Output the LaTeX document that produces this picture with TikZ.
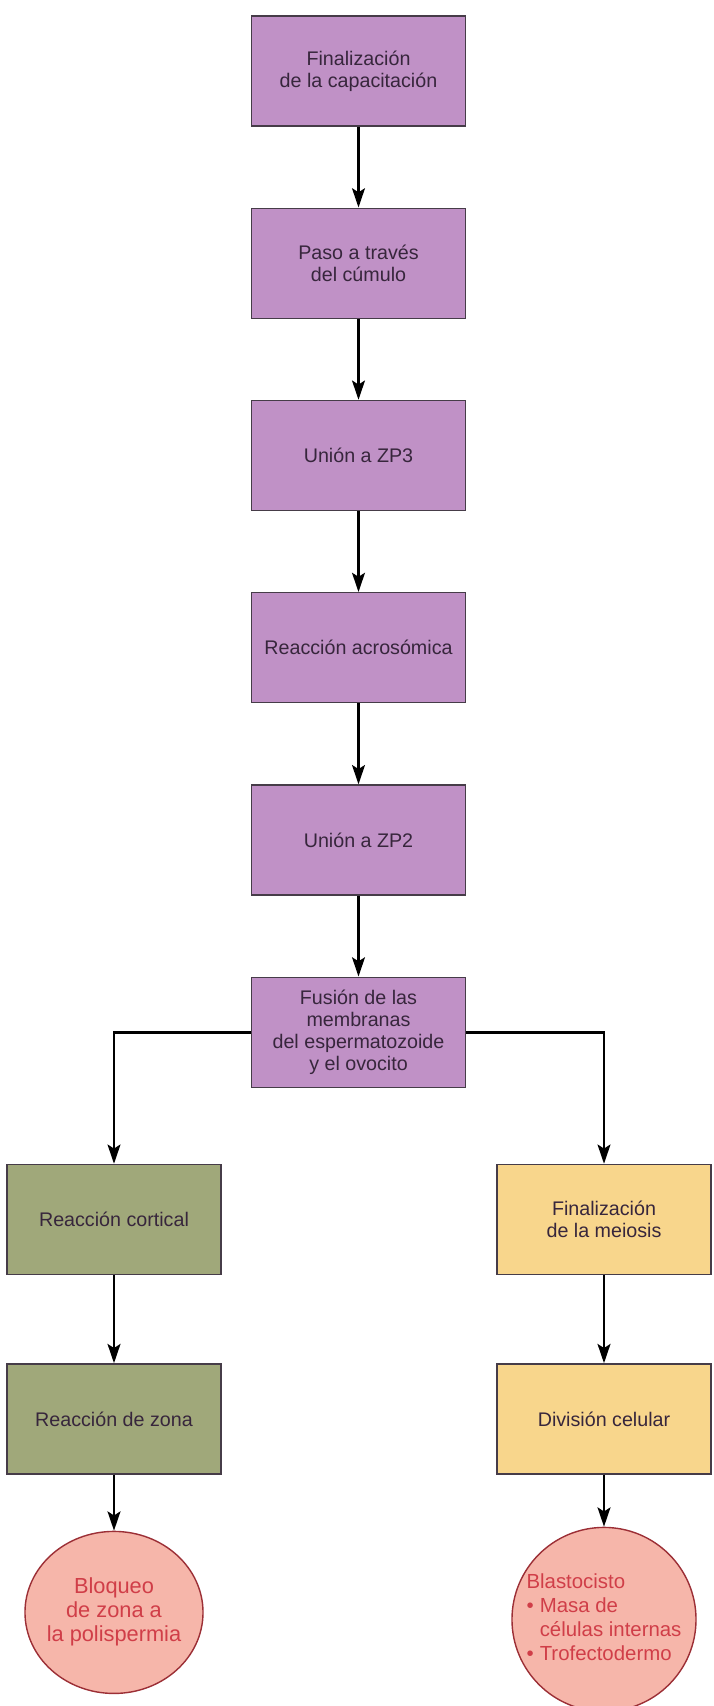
\documentclass[tikz,border=0pt]{standalone}
\usepackage{fontspec}
\setmainfont{Liberation Sans}
\usepackage{tikz}
\usetikzlibrary{shapes.geometric, arrows.meta, positioning}
\definecolor{steppurple}{RGB}{192, 145, 198}
\definecolor{cortgreen}{RGB}{160, 168, 122}
\definecolor{meioyellow}{RGB}{248, 214, 140}
\definecolor{endpink}{RGB}{246, 182, 170}
\definecolor{endred}{RGB}{208, 62, 72}
\definecolor{boxline}{RGB}{70, 60, 72}
\definecolor{boxtext}{RGB}{55, 38, 60}

\begin{document}
\begin{tikzpicture}[
    x=0.025cm, y=0.025cm,
    node distance=2.02cm,
    stepbox/.style={rectangle, draw=boxline, fill=steppurple, line width=1pt, minimum width=5.35cm, minimum height=2.75cm, align=center, text=boxtext, font=\fontsize{14}{15.5}\selectfont},
    cortbox/.style={stepbox, fill=cortgreen},
    meiobox/.style={stepbox, fill=meioyellow},
    endcircle/.style={ellipse, draw=endred!75!black, fill=endpink, line width=1pt, inner sep=0pt, text=endred, align=center, font=\fontsize{15.5}{17}\selectfont},
    arrow/.style={->, line width=2pt, >={Stealth[length=4.8mm, width=3.2mm, inset=1mm]}}
]
    \useasboundingbox (0,0) rectangle (713,-1706);

    % main column
    \node[stepbox] (cap) at (358.5,-71) {Finalización\\de la capacitación};
    \node[stepbox, below=of cap] (cum) {Paso a través\\del cúmulo};
    \node[stepbox, below=of cum] (zp3) {Unión a ZP3};
    \node[stepbox, below=of zp3] (acro) {Reacción acrosómica};
    \node[stepbox, below=of acro] (zp2) {Unión a ZP2};
    \node[stepbox, below=of zp2] (fus) {Fusión de las\\membranas\\del espermatozoide\\y el ovocito};

    % left branch
    \node[cortbox] (cort) at (114,-1219.5) {Reacción cortical};
    \node[cortbox, below=2.2cm of cort] (zona) {Reacción de zona};
    \node[endcircle, minimum width=4.45cm, minimum height=4.05cm, below=1.4cm of zona] (bloq) {\makebox[2.6cm]{\begin{tabular}{@{}c@{}}Bloqueo\\de zona a\\la polispermia\end{tabular}}};

    % right branch
    \node[meiobox] (meio) at (604,-1219.5) {Finalización\\de la meiosis};
    \node[meiobox, below=2.2cm of meio] (div) {División celular};
    \node[endcircle, font=\fontsize{14.5}{17}\selectfont, minimum width=4.6cm, minimum height=4.6cm, below=1.3cm of div] (blast) {\makebox[2.6cm]{\begin{tabular}{@{}l@{}}Blastocisto\\\textbullet\hspace{0.3em}Masa de\\\phantom{\textbullet\hspace{0.3em}}células internas\\\textbullet\hspace{0.3em}Trofectodermo\end{tabular}}};

    \draw[arrow] (cap) -- (cum);
    \draw[arrow] (cum) -- (zp3);
    \draw[arrow] (zp3) -- (acro);
    \draw[arrow] (acro) -- (zp2);
    \draw[arrow] (zp2) -- (fus);
    \draw[arrow] (fus.west) -| (cort);
    \draw[arrow] (fus.east) -| (meio);
    \draw[arrow] (cort) -- (zona);
    \draw[arrow] (zona) -- (bloq);
    \draw[arrow] (meio) -- (div);
    \draw[arrow] (div) -- (blast);
\end{tikzpicture}
\end{document}
